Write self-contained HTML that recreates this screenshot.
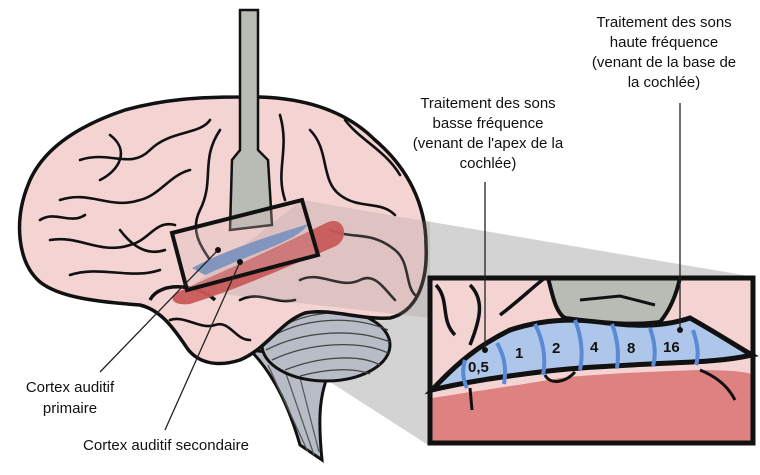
<!DOCTYPE html>
<html><head><style>
html,body{margin:0;padding:0;background:#fff;}
svg{display:block;}
text{font-family:"Liberation Sans",sans-serif;font-size:15px;fill:#111;}
</style></head><body>
<svg width="760" height="475" viewBox="0 0 760 475" xmlns="http://www.w3.org/2000/svg">
<polygon points="302,200 755,277 755,445 428,445 187,290" fill="#c8c8c8" opacity="0.8"/>
<path d="M250,350 C275,375 290,410 300,445 L322,460 C318,420 318,390 335,360 Z" fill="#b7bcc6" stroke="#111" stroke-width="3"/>
<g stroke="#555" stroke-width="1.2"><line x1="268" y1="365" x2="308" y2="452"/><line x1="282" y1="362" x2="314" y2="455"/><line x1="296" y1="362" x2="319" y2="452"/></g>
<ellipse cx="326" cy="345" rx="64" ry="36" fill="#b7bcc6" stroke="#111" stroke-width="3"/>
<g fill="none" stroke="#444" stroke-width="1.3">
<path d="M266,340 C300,318 350,314 388,330"/><path d="M266,350 C305,330 355,328 390,342"/><path d="M272,360 C310,342 360,340 388,353"/><path d="M285,370 C320,356 360,354 380,365"/><path d="M300,376 C330,368 355,368 370,374"/><path d="M280,328 C305,312 345,308 380,318"/>
</g>
<path d="M240,97 C300,95 345,110 375,140 C408,168 426,205 426,245 C428,285 415,312 390,318 C360,320 330,308 305,313 C280,322 268,348 240,360 C215,368 195,362 185,345 C172,326 160,310 140,305 C100,302 60,298 40,282 C17,262 14,220 28,185 C42,148 80,125 125,110 C165,99 200,97 240,97 Z" fill="#f4d3d3" stroke="#111" stroke-width="3.5"/>
<path d="M150,300 C160,280 200,285 215,300" fill="none" stroke="#111" stroke-width="3.5"/>
<g fill="none" stroke="#111" stroke-width="2.6" stroke-linecap="round">
<path d="M60,200 C90,190 110,210 140,200 C160,195 170,175 190,170"/>
<path d="M80,160 C110,150 130,170 150,150 C170,130 200,135 210,120"/>
<path d="M50,240 C80,235 100,255 130,245 C150,240 155,220 175,225"/>
<path d="M70,275 C100,265 130,280 160,270"/>
<path d="M220,130 C200,160 215,180 200,210 C190,230 200,245 210,260"/>
<path d="M280,115 C290,150 275,170 285,200"/>
<path d="M310,130 C330,150 320,180 340,195 C360,210 380,200 395,215"/>
<path d="M345,120 C360,140 385,150 400,175"/>
<path d="M330,230 C355,240 370,230 395,250 C410,262 405,285 415,295"/>
<path d="M300,280 C320,270 340,290 360,280 C375,272 385,290 395,300"/>
<path d="M240,300 C260,290 275,305 295,300"/>
<path d="M170,320 C185,315 200,330 215,325 C230,320 235,340 250,340"/>
<path d="M110,135 C130,150 120,170 100,180"/>
<path d="M250,175 C245,195 255,210 240,225"/>
<path d="M40,220 C55,210 70,225 85,215"/>
<path d="M120,230 C135,250 150,255 165,250"/>
</g>
<polygon points="302,200 430,222 430,318 187,290" fill="#a09090" opacity="0.25"/>
<path d="M178,292 C230,268 280,246 328,222 C345,216 350,238 336,246 C290,266 240,288 190,304 C172,306 168,298 178,292 Z" fill="#c75a5a" opacity="0.95"/>
<path d="M192,268 C230,248 270,236 308,224 C300,240 255,252 205,275 Z" fill="#5b86c0"/>
<path d="M240,10 L258,10 L258,150 L268,160 L272,225 L230,230 L232,160 L240,150 Z" fill="#b8bcb4" stroke="#111" stroke-width="2.5"/>
<polygon points="172,233 302,200 318,255 187,290" fill="#d9b8b8" fill-opacity="0.3" stroke="#111" stroke-width="4"/>
<rect x="430" y="278" width="323" height="165" fill="#f4d3d3"/>
<path d="M432,398 C470,392 520,385 560,378 C600,374 640,372 700,370 C730,370 745,372 752,374 L752,442 L432,442 Z" fill="#de8181"/>
<path d="M432,390 C460,360 480,345 510,330 C540,320 570,318 600,322 C630,326 660,328 690,318 C715,332 735,345 752,355 C720,362 690,362 650,364 C610,366 570,368 540,372 C500,377 465,382 432,390 Z" fill="#adc6ea" stroke="#111" stroke-width="5"/>
<path d="M548,278 L680,278 C676,296 670,310 660,322 C630,326 600,322 565,318 C555,312 552,292 548,278 Z" fill="#b8bcb4" stroke="#111" stroke-width="4"/>
<path d="M580,300 L620,296 L655,305" fill="none" stroke="#111" stroke-width="3"/>
<path d="M436,285 C450,300 440,320 455,335 M470,285 C485,300 480,320 470,345 M500,315 C520,300 535,285 545,278" fill="none" stroke="#111" stroke-width="3.5"/>
<path d="M470,388 L472,410 M545,375 C550,385 565,383 575,372 M700,370 C720,378 730,390 735,400" fill="none" stroke="#111" stroke-width="3"/>
<g fill="none" stroke="#5a8ad4" stroke-width="4">
<path d="M465,360 C462,370 463,380 467,388"/><path d="M497,343 C506,358 506,372 504,384"/>
<path d="M535,324 C544,342 546,360 543,375"/><path d="M575,320 C582,338 583,355 580,370"/>
<path d="M612,324 C618,340 619,355 617,368"/><path d="M650,328 C655,342 656,355 653,366"/>
<path d="M693,330 C698,345 699,355 696,365"/>
</g>
<g>
<text x="468" y="372" style="font-weight:bold;font-size:15px">0,5</text>
<text x="515" y="358" style="font-weight:bold;font-size:15px">1</text>
<text x="552" y="353" style="font-weight:bold;font-size:15px">2</text>
<text x="590" y="352" style="font-weight:bold;font-size:15px">4</text>
<text x="627" y="353" style="font-weight:bold;font-size:15px">8</text>
<text x="663" y="352" style="font-weight:bold;font-size:15px">16</text>
</g>
<rect x="430" y="278" width="323" height="165" fill="none" stroke="#111" stroke-width="5"/>
<g stroke="#222" stroke-width="1.3">
<line x1="485" y1="182" x2="485" y2="349"/><line x1="680" y1="103" x2="680" y2="328"/>
<line x1="218" y1="250" x2="100" y2="372"/><line x1="240" y1="262" x2="165" y2="430"/>
</g>
<g fill="#111"><circle cx="485" cy="350" r="3"/><circle cx="680" cy="330" r="3"/><circle cx="218" cy="250" r="3"/><circle cx="240" cy="262" r="3"/></g>
<g text-anchor="middle">
<text x="664" y="27">Traitement des sons</text><text x="664" y="47">haute fréquence</text><text x="664" y="67">(venant de la base de</text><text x="664" y="87">la cochlée)</text>
<text x="488" y="108">Traitement des sons</text><text x="488" y="128">basse fréquence</text><text x="488" y="148">(venant de l'apex de la</text><text x="488" y="168">cochlée)</text>
<text x="70" y="392">Cortex auditif</text><text x="70" y="413">primaire</text>
<text x="166" y="450">Cortex auditif secondaire</text>
</g>
</svg>
</body></html>
